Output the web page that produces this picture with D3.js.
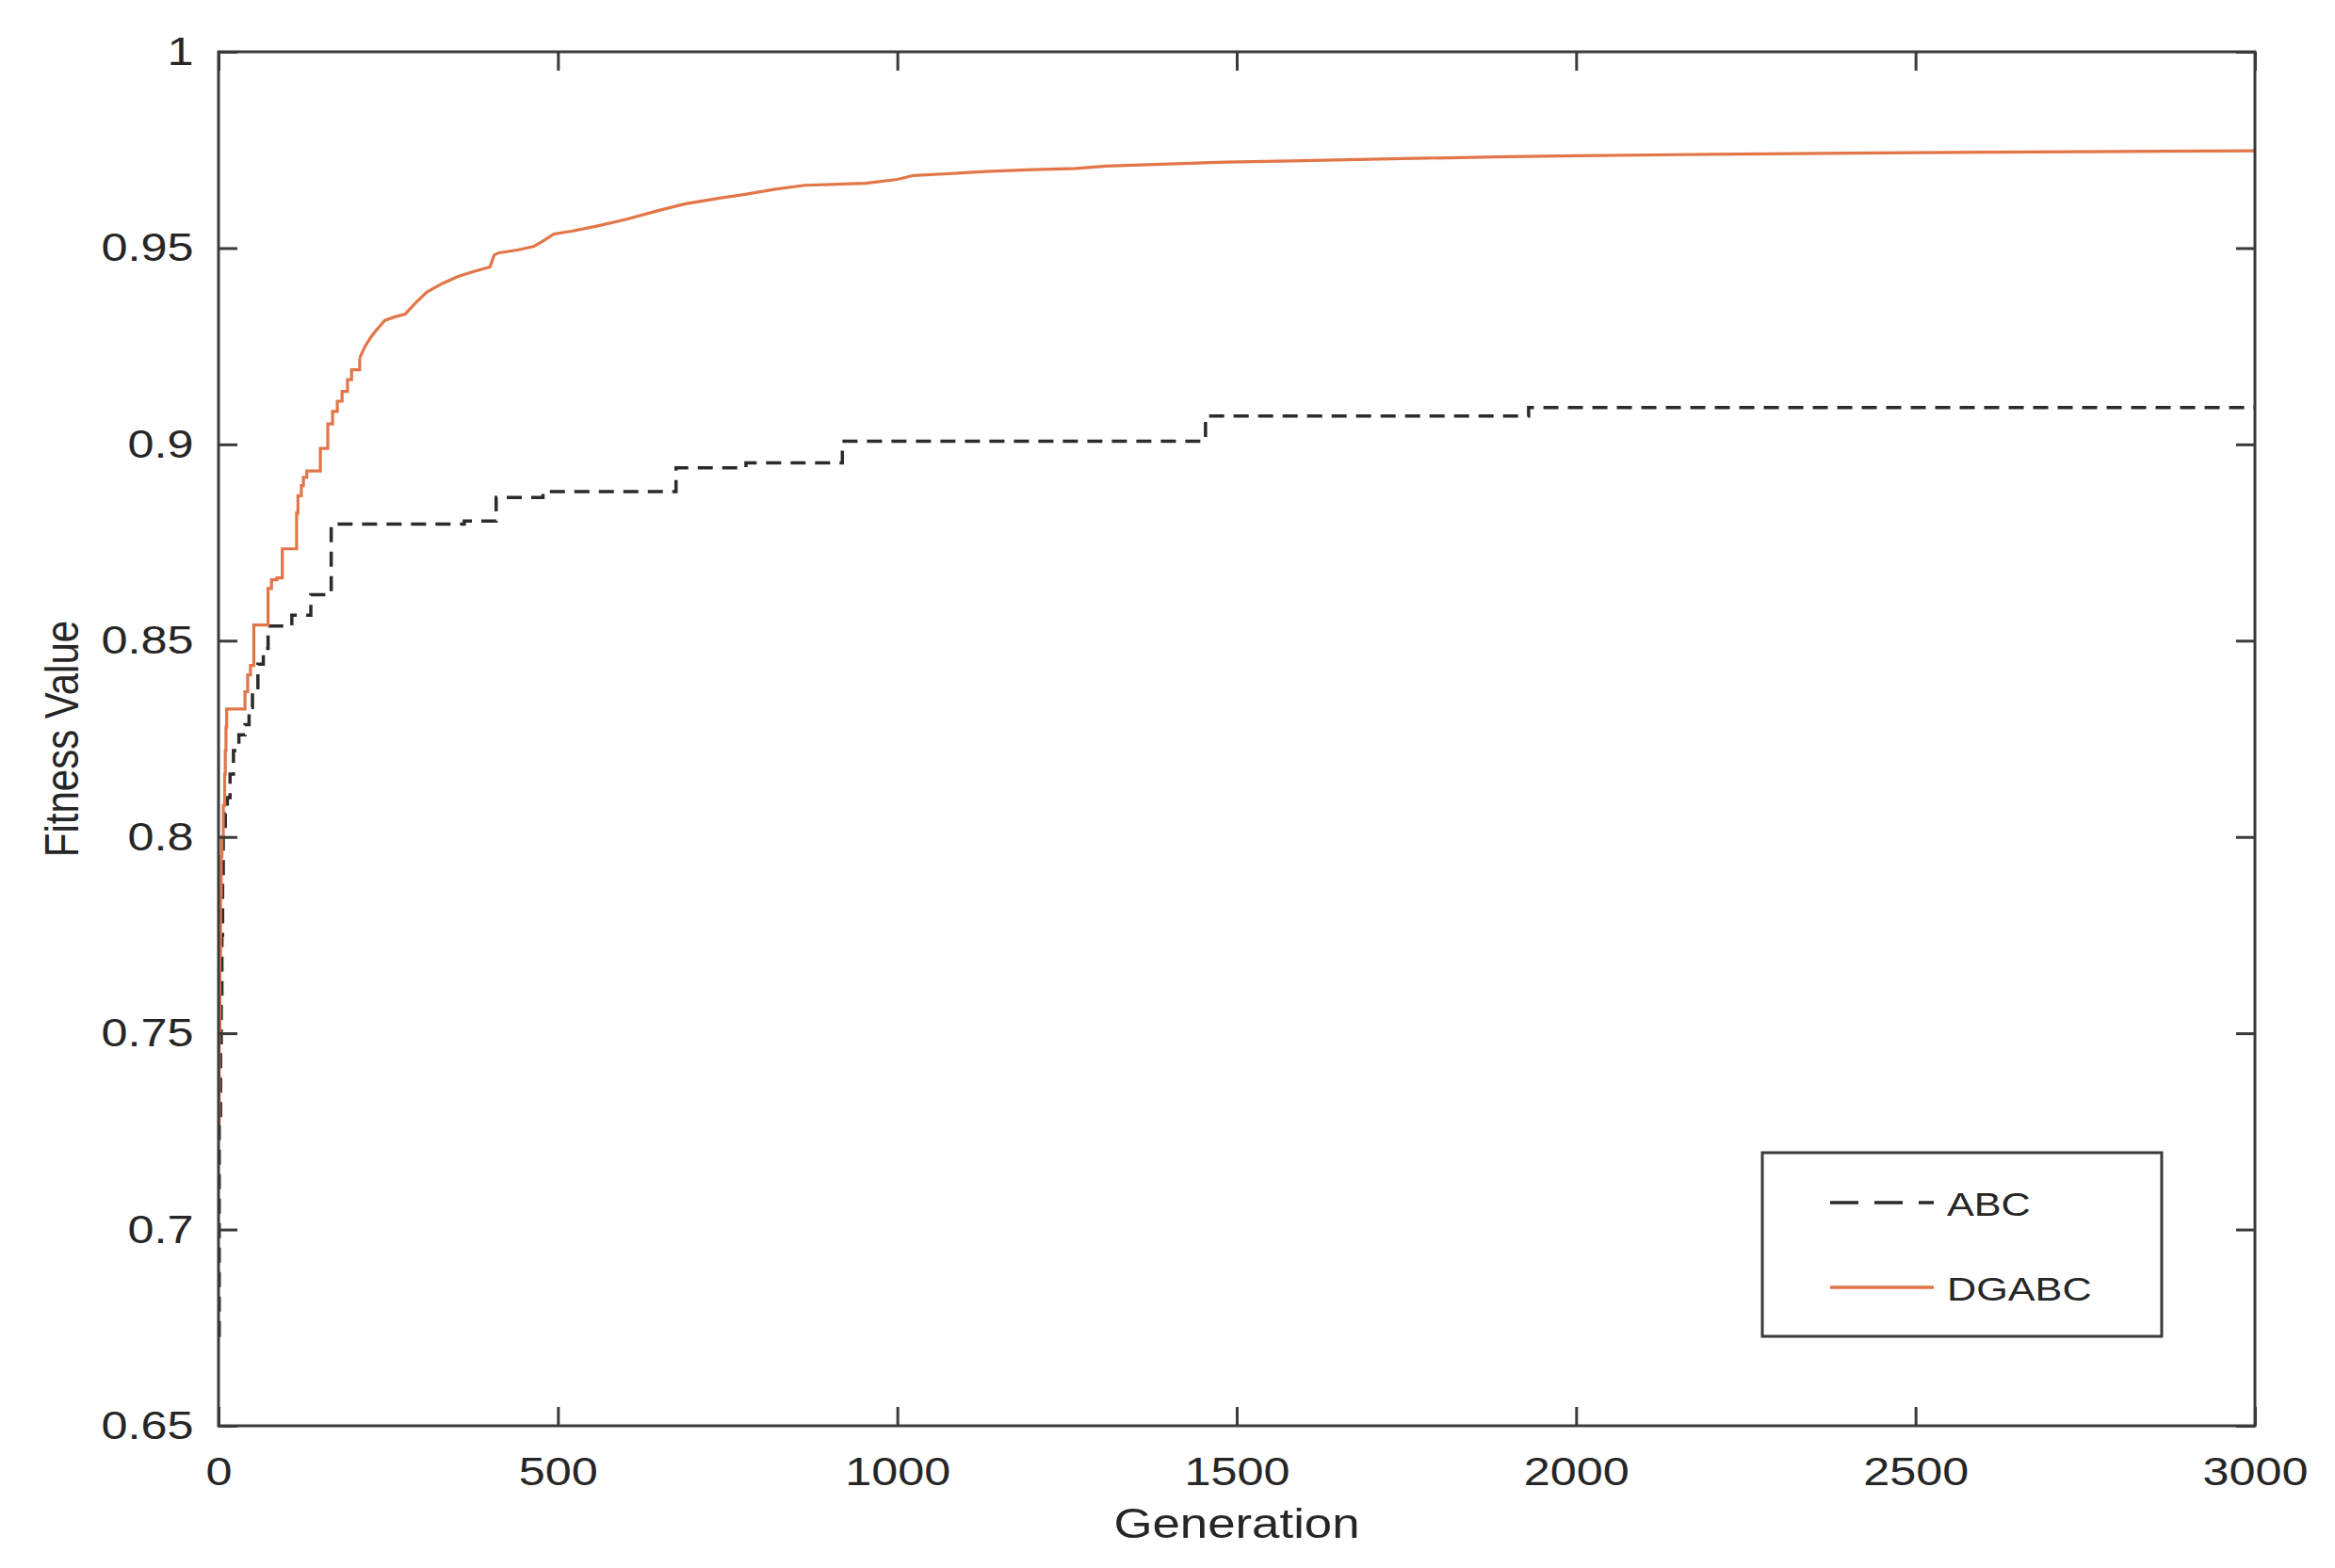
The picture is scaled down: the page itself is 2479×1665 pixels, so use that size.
<!DOCTYPE html>
<html>
<head>
<meta charset="utf-8">
<script src="https://cdn.jsdelivr.net/npm/d3@7"></script>
<style>
  html, body { margin: 0; padding: 0; background: #fff; }
  svg { display: block; }
  text { font-family: "Liberation Sans", Arial, Helvetica, sans-serif; fill: #262626; }
</style>
</head>
<body>
<script>
// ---- Data ----
const xTicks = [0, 500, 1000, 1500, 2000, 2500, 3000];
const yTicks = [0.65, 0.7, 0.75, 0.8, 0.85, 0.9, 0.95, 1];
const seriesNames = ["ABC", "DGABC"];

const abcGen = [0, 1, 3, 4, 5, 6, 7, 10, 13, 17, 22, 30, 39, 45, 50, 58, 66, 73, 108, 136, 166, 362, 409, 478, 674, 777, 919, 1454, 1930, 3000];
const abcVal = [0.673, 0.727, 0.745, 0.76, 0.775, 0.79, 0.80, 0.806, 0.81, 0.816, 0.822, 0.826, 0.8286, 0.833, 0.838, 0.844, 0.848, 0.8537, 0.8565, 0.8617, 0.8797, 0.8805, 0.8865, 0.888, 0.894, 0.8953, 0.9008, 0.9072, 0.9094, 0.9094];

const dgGen = [0, 1, 2, 3, 4, 5, 7, 9, 10, 11, 12, 39, 43, 47, 52, 73, 78, 86, 94, 115, 117, 122, 125, 130, 150, 161, 168, 175, 182, 190, 196, 208, 216, 224, 232, 245, 260, 275, 290, 307, 330, 353, 375, 400, 406, 413, 440, 464, 480, 494, 520, 557, 600, 649, 688, 730, 776, 820, 864, 953, 1000, 1024, 1080, 1130, 1200, 1263, 1307, 1400, 1484, 1580, 1661, 1780, 1898, 2000, 2200, 2400, 2600, 2800, 3000];
const dgVal = [0.727, 0.75, 0.77, 0.785, 0.795, 0.80, 0.808, 0.816, 0.822, 0.828, 0.8326, 0.837, 0.8413, 0.8437, 0.854, 0.8633, 0.8655, 0.866, 0.8734, 0.8825, 0.8869, 0.8895, 0.8916, 0.8932, 0.899, 0.9052, 0.9084, 0.911, 0.9135, 0.9165, 0.919, 0.922, 0.925, 0.9272, 0.929, 0.9316, 0.9325, 0.9332, 0.936, 0.9388, 0.941, 0.9428, 0.944, 0.9452, 0.9482, 0.9488, 0.9495, 0.9504, 0.952, 0.9536, 0.9543, 0.9556, 0.9573, 0.9596, 0.9613, 0.9625, 0.9637, 0.965, 0.966, 0.9665, 0.9675, 0.9685, 0.969, 0.9695, 0.97, 0.9703, 0.9709, 0.9714, 0.9719, 0.9722, 0.9725, 0.9729, 0.9733, 0.9735, 0.9739, 0.9742, 0.9744, 0.9746, 0.9748];
const dgStepUntil = 208; // generations up to here show distinct steps

// ---- Layout ----
const W = 2479, H = 1665;
const L = 232, R = 2394, T = 55, B = 1514;
const axisColor = "#3a3a3a";
const orange = "#E27649";
const dark = "#2b2b2b";
const SX = 1.2; // horizontal text stretch seen in the reference

const svg = d3.select("body").append("svg").attr("width", W).attr("height", H);

const x = d3.scaleLinear().domain([0, 3000]).range([L, R]);
const y = d3.scaleLinear().domain([0.65, 1]).range([B, T]);

svg.append("defs").append("clipPath").attr("id", "clip")
  .append("rect").attr("x", L).attr("y", T).attr("width", R - L).attr("height", B - T);

// Lines
const abc = abcGen.map((g, i) => [g, abcVal[i]]);
const dg = dgGen.map((g, i) => [g, dgVal[i]]);
const stepLine = d3.line().x(d => x(d[0])).y(d => y(d[1])).curve(d3.curveStepAfter);
const smoothLine = d3.line().x(d => x(d[0])).y(d => y(d[1])).curve(d3.curveLinear);

const plot = svg.append("g").attr("clip-path", "url(#clip)");
plot.append("path").datum(abc).attr("d", stepLine)
  .attr("fill", "none").attr("stroke", dark).attr("stroke-width", 3.5)
  .attr("stroke-dasharray", "16,10");
plot.append("path").datum(dg.filter(d => d[0] <= dgStepUntil)).attr("d", stepLine)
  .attr("fill", "none").attr("stroke", orange).attr("stroke-width", 3.2);
plot.append("path").datum(dg.filter(d => d[0] >= dgStepUntil)).attr("d", smoothLine)
  .attr("fill", "none").attr("stroke", orange).attr("stroke-width", 3.2);

// Axes (ticks inward on all four sides)
function styleAxis(g) {
  g.select(".domain").remove();
  g.selectAll(".tick line").attr("stroke", axisColor).attr("stroke-width", 3);
}
const fmtY = d => d3.format("")(+d.toFixed(2));

const gL = svg.append("g").attr("transform", `translate(${L},0)`)
  .call(d3.axisLeft(y).tickValues(yTicks).tickSizeInner(-20).tickSizeOuter(0).tickPadding(22).tickFormat(fmtY));
styleAxis(gL);
gL.selectAll(".tick text").attr("font-size", 42).attr("fill", "#262626")
  .attr("transform", `scale(${SX},1)`).attr("font-family", "Liberation Sans, Arial, sans-serif");

const gB = svg.append("g").attr("transform", `translate(0,${B})`)
  .call(d3.axisBottom(x).tickValues(xTicks).tickSizeInner(-20).tickSizeOuter(0).tickPadding(33).tickFormat(d3.format("d")));
styleAxis(gB);
gB.selectAll(".tick text").attr("font-size", 42).attr("fill", "#262626")
  .attr("transform", `scale(${SX},1)`).attr("font-family", "Liberation Sans, Arial, sans-serif");

const gR = svg.append("g").attr("transform", `translate(${R},0)`)
  .call(d3.axisRight(y).tickValues(yTicks).tickSizeInner(-20).tickSizeOuter(0).tickFormat(""));
styleAxis(gR);
const gT = svg.append("g").attr("transform", `translate(0,${T})`)
  .call(d3.axisTop(x).tickValues(xTicks).tickSizeInner(-20).tickSizeOuter(0).tickFormat(""));
styleAxis(gT);

// Box
svg.append("rect").attr("x", L).attr("y", T).attr("width", R - L).attr("height", B - T)
  .attr("fill", "none").attr("stroke", axisColor).attr("stroke-width", 3);

// Axis labels
svg.append("text").attr("transform", `translate(${(L + R) / 2},1633) scale(${SX},1)`)
  .attr("text-anchor", "middle").attr("font-size", 44).text("Generation");
svg.append("text").attr("transform", `translate(83,${(T + B) / 2}) rotate(-90) scale(1,${SX})`)
  .attr("text-anchor", "middle").attr("font-size", 42).text("Fitness Value");

// Legend
const lg = svg.append("g");
lg.append("rect").attr("x", 1871).attr("y", 1224).attr("width", 424).attr("height", 195)
  .attr("fill", "#fff").attr("stroke", axisColor).attr("stroke-width", 3);
const legendY = [1277, 1367];
const legendStyle = [{ c: dark, dash: "30,17", w: 3.5 }, { c: orange, dash: null, w: 3.5 }];
seriesNames.forEach((name, i) => {
  lg.append("line").attr("x1", 1943).attr("x2", 2053).attr("y1", legendY[i]).attr("y2", legendY[i])
    .attr("stroke", legendStyle[i].c).attr("stroke-width", legendStyle[i].w)
    .attr("stroke-dasharray", legendStyle[i].dash);
  lg.append("text").attr("transform", `translate(2067,${legendY[i] + 14}) scale(${SX},1)`)
    .attr("font-size", 36).text(name);
});
</script>
</body>
</html>
